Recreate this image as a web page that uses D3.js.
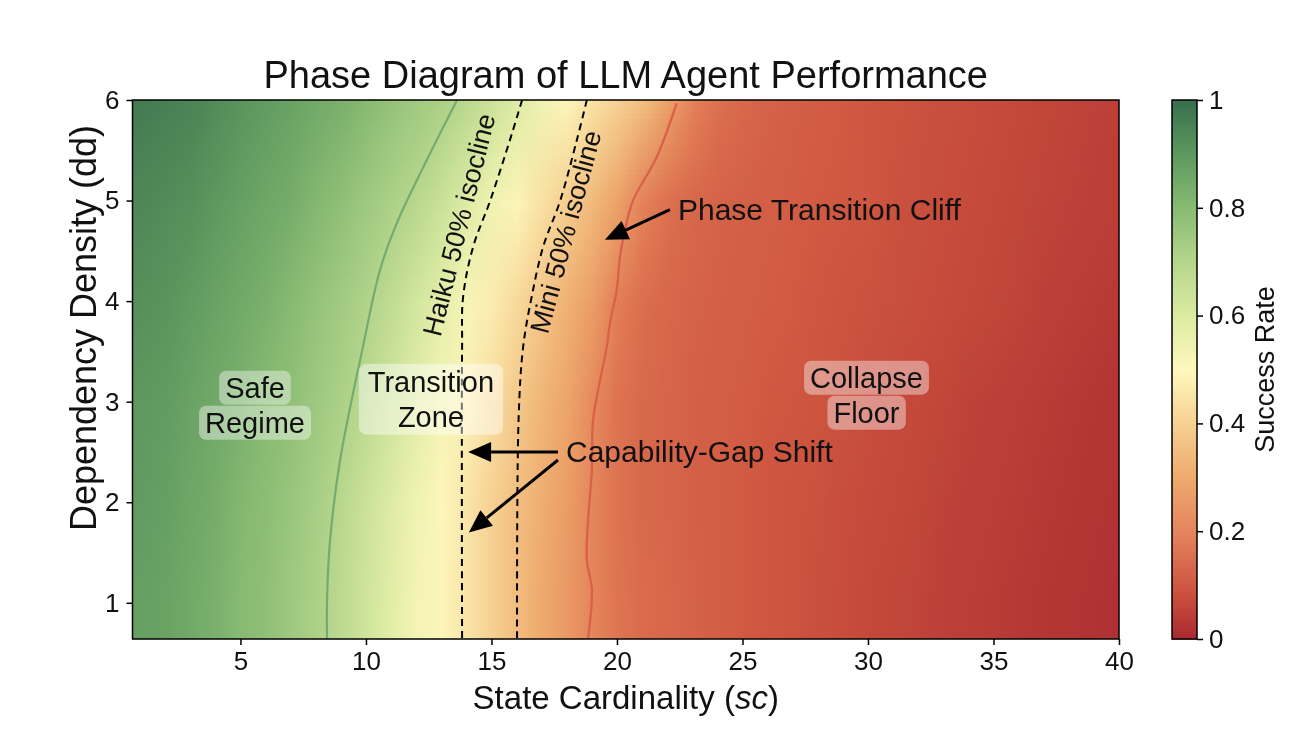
<!DOCTYPE html>
<html><head><meta charset="utf-8">
<script src="https://cdn.jsdelivr.net/npm/d3@7"></script>
<style>
body{margin:0;background:#fff;}
#wrap{position:relative;width:1314px;height:734px;}
#wrap canvas,#wrap svg{position:absolute;left:0;top:0;}
text{font-family:"Liberation Sans",Arial,Helvetica,sans-serif;fill:#111;}
</style>
</head><body>
<div id="wrap"><canvas id="cv" width="1314" height="734"></canvas><svg id="c" width="1314" height="734"></svg></div>
<script>
// ---------------- DATA ----------------
const scGrid = [1,2,3,4,5,6,7,8,9,10,11,12,13,14,15,16,17,18,19,20,21,22,23,24,25,26,27,28,29,30,31,32,33,34,35,36,37,38,39,40];
const ddGrid = [6,5,4,3,2,1];
const rate_dd6 = [0.97,0.96,0.95,0.93,0.91,0.89,0.87,0.85,0.83,0.80,0.77,0.745,0.72,0.685,0.64,0.59,0.54,0.49,0.44,0.40,0.35,0.28,0.20,0.16,0.14,0.13,0.12,0.115,0.11,0.10,0.095,0.09,0.085,0.08,0.075,0.07,0.065,0.06,0.055,0.05];
const rate_dd5 = [0.94,0.93,0.92,0.90,0.88,0.86,0.84,0.81,0.78,0.75,0.72,0.69,0.645,0.59,0.54,0.49,0.44,0.39,0.34,0.28,0.20,0.16,0.14,0.13,0.125,0.12,0.115,0.11,0.105,0.10,0.09,0.085,0.08,0.075,0.07,0.065,0.06,0.055,0.05,0.045];
const rate_dd4 = [0.92,0.91,0.89,0.87,0.85,0.83,0.80,0.77,0.74,0.71,0.67,0.62,0.57,0.52,0.47,0.42,0.37,0.32,0.27,0.19,0.155,0.14,0.13,0.125,0.12,0.115,0.11,0.10,0.095,0.09,0.085,0.08,0.075,0.07,0.065,0.06,0.05,0.045,0.04,0.035];
const rate_dd3 = [0.90,0.89,0.87,0.85,0.83,0.80,0.78,0.75,0.72,0.68,0.63,0.58,0.53,0.48,0.43,0.38,0.33,0.29,0.22,0.165,0.145,0.135,0.125,0.12,0.115,0.105,0.10,0.095,0.09,0.08,0.075,0.07,0.065,0.055,0.05,0.045,0.04,0.035,0.03,0.025];
const rate_dd2 = [0.89,0.88,0.86,0.84,0.81,0.79,0.76,0.73,0.69,0.64,0.59,0.54,0.495,0.45,0.40,0.355,0.31,0.27,0.21,0.165,0.145,0.135,0.125,0.12,0.11,0.10,0.095,0.09,0.08,0.075,0.07,0.065,0.055,0.05,0.045,0.04,0.035,0.03,0.025,0.02];
const rate_dd1 = [0.88,0.87,0.85,0.83,0.80,0.78,0.75,0.72,0.68,0.63,0.58,0.53,0.49,0.45,0.40,0.35,0.30,0.26,0.21,0.17,0.15,0.14,0.13,0.12,0.11,0.10,0.095,0.085,0.08,0.07,0.065,0.06,0.05,0.045,0.04,0.035,0.03,0.025,0.02,0.015];

// contour of success surface (green, upper level) and the cliff contour (red)
const greenContourSc = [13.63,12.28,11.24,10.56,9.85,8.97,8.57,8.45,8.45];
const greenContourDd = [6.0,5.33,4.78,4.31,3.51,2.42,1.62,1.03,0.64];
const redContourSc = [22.38,21.58,20.64,20.32,20.12,19.99,19.72,19.59,19.05,19.00,18.85,18.80,19.00,18.85];
const redContourDd = [5.97,5.43,5.0,4.71,4.44,4.11,3.78,3.54,2.82,2.32,1.82,1.43,1.13,0.64];
// 50% isoclines
const haikuSc = [16.22,15.82,14.95,14.27,13.87,13.83,13.83];
const haikuDd = [6.0,5.67,5.0,4.54,4.04,3.54,0.64];
const miniSc = [18.80,18.40,17.74,17.06,16.60,16.26,16.08,16.02];
const miniDd = [6.0,5.60,5.0,4.54,4.04,3.54,2.82,0.64];

const xTicks = [5,10,15,20,25,30,35,40];
const yTicks = [1,2,3,4,5,6];
const cbTicks = [0,0.2,0.4,0.6,0.8,1];
const cbTickLabels = ["0","0.2","0.4","0.6","0.8","1"];

const cmapStops = [0,0.1,0.2,0.3,0.4,0.5,0.6,0.7,0.8,0.9,1.0];
const cmapColors = ["#aa2a30","#cf5640","#e4825a","#eea96c","#f6d192","#fef8bd","#dceba2","#b5d68c","#88bb73","#5e995f","#386f4d"];

const regionLabels = [
  {lines:["Safe","Regime"], sc:5.58, dd:2.97, joined:false},
  {lines:["Transition","Zone"], sc:12.59, dd:3.03, joined:true},
  {lines:["Collapse","Floor"], sc:29.94, dd:3.07, joined:false}
];
const isoLabels = [
  {text:"Haiku 50% isocline", sc:13.7, dd:4.76, angle:-76},
  {text:"Mini 50% isocline", sc:17.95, dd:4.69, angle:-75}
];
const annotations = [
  {text:"Phase Transition Cliff", sc:22.43, dd:4.91, arrows:[[22.11,4.91,19.52,4.61]]},
  {text:"Capability-Gap Shift", sc:17.97, dd:2.50, arrows:[[17.65,2.50,14.07,2.50],[17.65,2.42,14.10,1.70]]}
];

// ---------------- SCALES ----------------
const x = d3.scaleLinear().domain([0.7,40]).range([132.5,1119]);
const y = d3.scaleLinear().domain([0.64,6]).range([639,100]);
const color = d3.scaleLinear().domain(cmapStops).range(cmapColors).interpolate(d3.interpolateRgb).clamp(true);

// ---------------- HEATMAP ----------------
const rows = [rate_dd6,rate_dd5,rate_dd4,rate_dd3,rate_dd2,rate_dd1];
const small = document.createElement("canvas");
small.width = scGrid.length; small.height = ddGrid.length;
const sctx = small.getContext("2d");
rows.forEach((row,r)=>{
  row.forEach((v,c)=>{ sctx.fillStyle = color(v); sctx.fillRect(c,r,1,1); });
});
const cv = document.getElementById("cv");
const ctx = cv.getContext("2d");
ctx.save();
ctx.beginPath();
ctx.rect(x(0.7), y(6), x(40)-x(0.7), y(0.64)-y(6));
ctx.clip();
ctx.imageSmoothingEnabled = true;
ctx.imageSmoothingQuality = "low";
const sx0 = x(scGrid[0]-0.5), sx1 = x(scGrid[scGrid.length-1]+0.5);
const sy0 = y(ddGrid[0]+0.5), sy1 = y(ddGrid[ddGrid.length-1]-0.5);
ctx.drawImage(small, sx0, sy0, sx1-sx0, sy1-sy0);
ctx.restore();

// ---------------- SVG ----------------
const svg = d3.select("#c");
const plot = svg.append("g");
plot.append("clipPath").attr("id","clip").append("rect")
  .attr("x",x(0.7)).attr("y",y(6)).attr("width",x(40)-x(0.7)).attr("height",y(0.64)-y(6));
const g = plot.append("g").attr("clip-path","url(#clip)");

const lineOf = (scs,dds)=> d3.line().curve(d3.curveCatmullRom.alpha(0.5))(scs.map((s,i)=>[x(s),y(dds[i])]));
g.append("path").attr("d",lineOf(greenContourSc,greenContourDd))
  .attr("fill","none").attr("stroke","#72a96e").attr("stroke-width",2.2).attr("stroke-opacity",0.95);
g.append("path").attr("d",lineOf(redContourSc,redContourDd))
  .attr("fill","none").attr("stroke","#d9604a").attr("stroke-width",2.3).attr("stroke-opacity",1);
g.append("path").attr("d",lineOf(haikuSc,haikuDd))
  .attr("fill","none").attr("stroke","#000").attr("stroke-width",2).attr("stroke-dasharray","7,5");
g.append("path").attr("d",lineOf(miniSc,miniDd))
  .attr("fill","none").attr("stroke","#000").attr("stroke-width",2).attr("stroke-dasharray","7,5");

// region labels with boxes
regionLabels.forEach(L=>{
  const cx = x(L.sc), cy = y(L.dd);
  const grp = g.append("g");
  const boxes = grp.append("g");
  const texts = L.lines.map((t,i)=> grp.append("text")
      .attr("x",cx).attr("y", cy - 7 + i*35)
      .attr("text-anchor","middle").attr("font-size",29).text(t));
  const bbs = texts.map(t=>t.node().getBBox());
  if (L.joined){
    const x0 = d3.min(bbs,b=>b.x)-9, x1 = d3.max(bbs,b=>b.x+b.width)+9;
    const y0 = bbs[0].y-2, y1 = bbs[bbs.length-1].y+bbs[bbs.length-1].height+2;
    boxes.append("rect").attr("x",x0).attr("y",y0).attr("width",x1-x0).attr("height",y1-y0)
      .attr("rx",8).attr("fill","#fff").attr("fill-opacity",0.45);
  } else {
    bbs.forEach(b=>{
      boxes.append("rect").attr("x",b.x-6).attr("y",b.y-1).attr("width",b.width+12).attr("height",b.height+2)
        .attr("rx",7).attr("fill","#fff").attr("fill-opacity",0.4);
    });
  }
});

// isocline labels
isoLabels.forEach(L=>{
  g.append("text").attr("transform",`translate(${x(L.sc)},${y(L.dd)}) rotate(${L.angle})`)
    .attr("text-anchor","middle").attr("dy","0.35em").attr("font-size",27).text(L.text);
});

// annotations with arrows
annotations.forEach(A=>{
  plot.append("text").attr("x",x(A.sc)).attr("y",y(A.dd)).attr("dy","0.35em")
    .attr("font-size",30).text(A.text);
  A.arrows.forEach(a=>{
    const x1=x(a[0]), y1=y(a[1]), x2=x(a[2]), y2=y(a[3]);
    const ang = Math.atan2(y2-y1,x2-x1);
    const hl=23, hw=10;
    const bx = x2 - hl*Math.cos(ang), by = y2 - hl*Math.sin(ang);
    plot.append("line").attr("x1",x1).attr("y1",y1).attr("x2",bx).attr("y2",by)
      .attr("stroke","#000").attr("stroke-width",3);
    const px = -Math.sin(ang), py = Math.cos(ang);
    plot.append("path").attr("d",`M${x2},${y2}L${bx+px*hw},${by+py*hw}L${bx-px*hw},${by-py*hw}Z`)
      .attr("fill","#000");
  });
});

// frame
plot.append("rect").attr("x",x(0.7)).attr("y",y(6)).attr("width",x(40)-x(0.7)).attr("height",y(0.64)-y(6))
  .attr("fill","none").attr("stroke","#000").attr("stroke-width",1.5);

// axes
const xa = svg.append("g").attr("transform",`translate(0,${y(0.64)})`)
  .call(d3.axisBottom(x).tickValues(xTicks).tickFormat(d3.format("d")).tickSize(6).tickPadding(7));
const ya = svg.append("g").attr("transform",`translate(${x(0.7)},0)`)
  .call(d3.axisLeft(y).tickValues(yTicks).tickFormat(d3.format("d")).tickSize(6).tickPadding(7));
[xa,ya].forEach(a=>{
  a.select(".domain").remove();
  a.selectAll(".tick line").attr("stroke","#000").attr("stroke-width",1.5);
  a.selectAll(".tick text").attr("font-size",26).attr("font-family","Liberation Sans, Arial, sans-serif").attr("fill","#111");
});

// titles
svg.append("text").attr("x",(x(0.7)+x(40))/2).attr("y",88).attr("text-anchor","middle")
  .attr("font-size",38).text("Phase Diagram of LLM Agent Performance");
const xl = svg.append("text").attr("x",(x(0.7)+x(40))/2).attr("y",709).attr("text-anchor","middle").attr("font-size",33);
xl.append("tspan").text("State Cardinality (");
xl.append("tspan").attr("font-style","italic").text("sc");
xl.append("tspan").text(")");
svg.append("text").attr("transform",`translate(96,328) rotate(-90)`)
  .attr("text-anchor","middle").attr("font-size",36).text("Dependency Density (dd)");

// colorbar
const cbX = 1172, cbW = 25;
const cbY = d3.scaleLinear().domain([0,1]).range([639,100]);
const cbSteps = d3.range(0,1,1/270);
svg.append("g").selectAll("rect").data(cbSteps).join("rect")
  .attr("x",cbX).attr("width",cbW)
  .attr("y",d=>cbY(d+1/270)).attr("height",d=>cbY(d)-cbY(d+1/270)+0.6)
  .attr("fill",d=>color(d+0.5/270));
svg.append("rect").attr("x",cbX).attr("y",cbY(1)).attr("width",cbW).attr("height",cbY(0)-cbY(1))
  .attr("fill","none").attr("stroke","#000").attr("stroke-width",1.5);
const cba = svg.append("g").attr("transform",`translate(${cbX+cbW},0)`)
  .call(d3.axisRight(cbY).tickValues(cbTicks).tickFormat((d,i)=>cbTickLabels[i]).tickSize(6).tickPadding(6));
cba.select(".domain").remove();
cba.selectAll(".tick line").attr("stroke","#000").attr("stroke-width",1.5);
cba.selectAll(".tick text").attr("font-size",26).attr("font-family","Liberation Sans, Arial, sans-serif").attr("fill","#111");
svg.append("text").attr("transform",`translate(1274,${(cbY(0)+cbY(1))/2}) rotate(-90)`)
  .attr("text-anchor","middle").attr("font-size",27).text("Success Rate");
</script>
</body></html>
